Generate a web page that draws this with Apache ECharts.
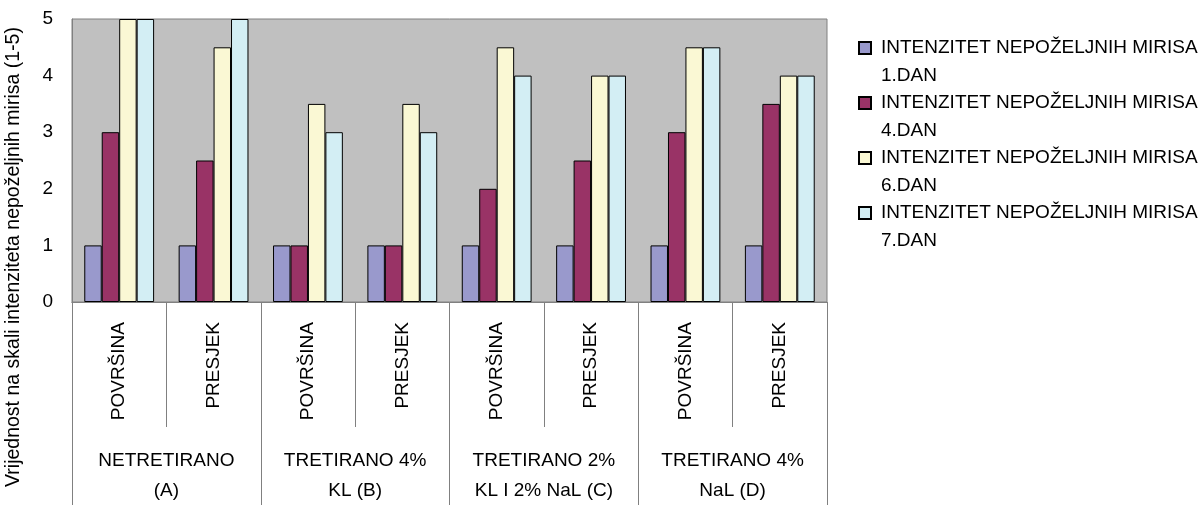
<!DOCTYPE html>
<html>
<head>
<meta charset="utf-8">
<script src="https://cdn.jsdelivr.net/npm/echarts@6/dist/echarts.min.js"></script>
<style>
  html, body { margin: 0; padding: 0; background: #fff; }
  #chart { width: 1204px; height: 505px; }
</style>
</head>
<body>
<div id="chart"></div>
<script>
	// data
	var categories = ['POVRŠINA', 'PRESJEK', 'POVRŠINA', 'PRESJEK', 'POVRŠINA', 'PRESJEK', 'POVRŠINA', 'PRESJEK'];
	var groups = ['NETRETIRANO\n(A)', 'TRETIRANO 4%\nKL (B)', 'TRETIRANO 2%\nKL I 2% NaL (C)', 'TRETIRANO 4%\nNaL (D)'];
	var seriesNames = [
		'INTENZITET NEPOŽELJNIH MIRISA 1.DAN',
		'INTENZITET NEPOŽELJNIH MIRISA 4.DAN',
		'INTENZITET NEPOŽELJNIH MIRISA 6.DAN',
		'INTENZITET NEPOŽELJNIH MIRISA 7.DAN'
	];
	var dan1 = [1, 1, 1, 1, 1, 1, 1, 1];
	var dan4 = [3, 2.5, 1, 1, 2, 2.5, 3, 3.5];
	var dan6 = [5, 4.5, 3.5, 3.5, 4.5, 4, 4.5, 4];
	var dan7 = [5, 5, 3, 3, 4, 4, 4.5, 4];
	var colors = ['#9999CC', '#993366', '#FAF8D4', '#D3EEF4'];
	var yTicks = [0, 1, 2, 3, 4, 5];

	var font = 'Liberation Sans, Arial, sans-serif';
	var lineGray = '#808080';
	var chart = echarts.init(document.getElementById('chart'));

	var values = [dan1, dan4, dan6, dan7];
	var series = [];
	for (var i = 0; i < values.length; i++) {
		series.push({
			name: seriesNames[i],
			type: 'bar',
			data: values[i],
			barGap: '0%',
			barCategoryGap: '26%',
			itemStyle: { color: colors[i], borderColor: '#000', borderWidth: 1 },
			animation: false
		});
	}

	// square on the top of the icon box, so it sits beside the first text line
	// (the zero length segment only stretches the box, nothing is drawn)
	var legendIcon = 'path://M0,0h12v12h-12z M17,40 L17,40';

	chart.setOption({
		animation: false,
		color: colors,
		grid: {
			left: 72, right: 377, top: 19, bottom: 203,
			outerBoundsMode: 'none',   // keep the plot where it is, labels may run to the edge
			show: true, backgroundColor: '#C0C0C0', borderColor: lineGray, borderWidth: 1
		},
		legend: {
			orient: 'vertical',
			left: 858, top: 34,
			padding: 0,
			icon: legendIcon,
			itemWidth: 17, itemHeight: 40,
			itemGap: -1,
			selectedMode: false,
			formatter: function (n) { return n.replace(/ (\S+)$/, '\n$1'); },
			textStyle: { fontFamily: font, fontSize: 19, color: '#000', lineHeight: 28 }
		},
		graphic: [{
			type: 'text',
			x: 14, y: 257,
			rotation: Math.PI / 2,
			style: {
				text: 'Vrijednost na skali intenziteta nepoželjnih mirisa (1-5)',
				font: '19.5px ' + font,
				fill: '#000',
				align: 'center',
				verticalAlign: 'middle'
			}
		}],
		xAxis: [{
			type: 'category',
			data: categories,
			position: 'bottom',
			axisLine: { show: true, lineStyle: { color: lineGray } },
			axisTick: { show: true, length: 125, lineStyle: { color: lineGray } },
			axisLabel: { rotate: 90, margin: 20, interval: 0, fontFamily: font, fontSize: 19, color: '#000' }
		}, {
			type: 'category',
			data: groups,
			position: 'bottom',
			offset: 0,
			axisLine: { show: true, lineStyle: { color: lineGray } },
			axisTick: { show: true, length: 203, lineStyle: { color: lineGray } },
			axisLabel: { margin: 144, interval: 0, fontFamily: font, fontSize: 19, lineHeight: 30, color: '#000' }
		}],
		yAxis: {
			type: 'value',
			min: yTicks[0], max: yTicks[yTicks.length - 1], interval: 1,
			splitLine: { show: false },
			axisLine: { show: true, lineStyle: { color: lineGray } },
			axisTick: { show: false },
			axisLabel: { margin: 19, fontFamily: font, fontSize: 19, color: '#000' }
		},
		series: series
	});
</script>
</body>
</html>
